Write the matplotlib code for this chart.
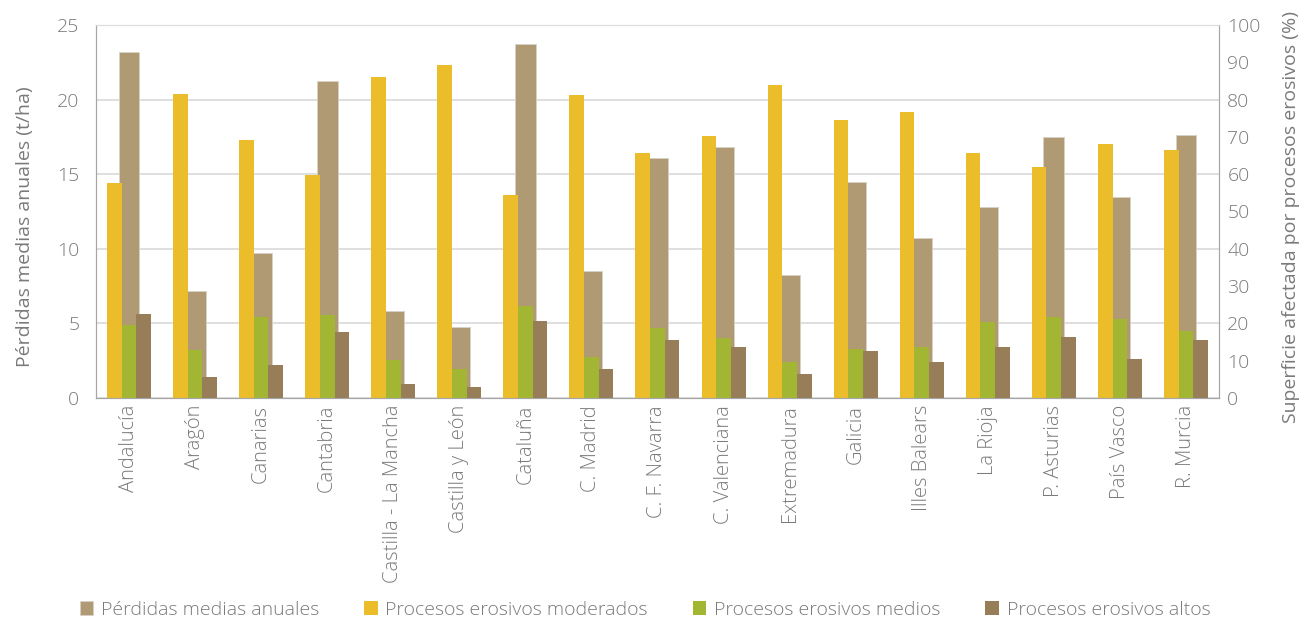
import numpy as np
import matplotlib.pyplot as plt

plt.rcParams['font.family'] = ['Open Sans', 'DejaVu Sans']
plt.rcParams['font.weight'] = 'light'

# Datos por comunidad autónoma
regiones = ['Andalucía', 'Aragón', 'Canarias', 'Cantabria', 'Castilla - La Mancha',
            'Castilla y León', 'Cataluña', 'C. Madrid', 'C. F. Navarra', 'C. Valenciana',
            'Extremadura', 'Galicia', 'Illes Balears', 'La Rioja', 'P. Asturias',
            'País Vasco', 'R. Murcia']
perdidas = [23.2, 7.2, 9.7, 21.25, 5.8, 4.75, 23.7, 8.5, 16.1, 16.8,
            8.25, 14.5, 10.7, 12.8, 17.5, 13.5, 17.65]          # t/ha
moderados = [57.6, 81.5, 69.2, 59.8, 86.0, 89.2, 54.5, 81.3, 65.6, 70.3,
             83.8, 74.4, 76.6, 65.8, 62.0, 68.1, 66.4]          # %
medios = [19.6, 12.8, 21.8, 22.2, 10.2, 7.8, 24.8, 10.9, 18.75, 16.0,
          9.8, 13.1, 13.6, 20.4, 21.7, 21.2, 18.0]              # %
altos = [22.6, 5.6, 8.8, 17.7, 3.8, 3.1, 20.7, 7.8, 15.5, 13.8,
         6.4, 12.7, 9.6, 13.7, 16.3, 10.5, 15.5]                # %

c_tan = '#b09a73'
c_yel = '#ebbd2a'
c_grn = '#a3b634'
c_brn = '#977d58'
c_txt = '#7a7a7a'

x = np.arange(len(regiones))
w = 0.222

fig = plt.figure(figsize=(13.03, 6.22), dpi=100)
ax = fig.add_axes([0.0737, 0.36, 0.8618, 0.60])
ax2 = ax.twinx()

ax.bar(x, perdidas, 0.315, color=c_tan, edgecolor='#d8d2c8', linewidth=0.6,
       label='Pérdidas medias anuales')
ax2.bar(x - w, moderados, w, color=c_yel, label='Procesos erosivos moderados')
ax2.bar(x, medios, w, color=c_grn, label='Procesos erosivos medios')
ax2.bar(x + w, altos, w, color=c_brn, label='Procesos erosivos altos')

ax.set_xlim(-0.5, len(regiones) - 0.5)
ax.set_ylim(0, 25)
ax2.set_ylim(0, 100)
ax.set_yticks(np.arange(0, 26, 5))
ax2.set_yticks(np.arange(0, 101, 10))
ax.set_axisbelow(True)
ax.yaxis.grid(True, color='#dcdcdc', linewidth=1.3)

ax.set_xticks(x)
ax.set_xticklabels(regiones, rotation=90)
for a in (ax, ax2):
    a.tick_params(axis='both', length=0, colors=c_txt, labelsize=14)
    for s in a.spines.values():
        s.set_color('#a6a6a6')
    a.spines['top'].set_color('#dcdcdc')
ax.tick_params(axis='x', labelsize=14.5, pad=5)
ax.tick_params(axis='y', pad=12)
ax2.tick_params(axis='y', pad=6)

ax.set_ylabel('Pérdidas medias anuales (t/ha)', fontsize=14, color=c_txt)
ax.yaxis.set_label_coords(-0.055, 0.458)
ax2.set_ylabel('Superficie afectada por procesos erosivos (%)', fontsize=14,
               color=c_txt)
ax2.yaxis.set_label_coords(1.056, 0.485)

h1, l1 = ax.get_legend_handles_labels()
h2, l2 = ax2.get_legend_handles_labels()
leg = fig.legend(h1 + h2, l1 + l2, loc='center', bbox_to_anchor=(0.495, 0.02),
                 ncol=4, frameon=False, fontsize=14, handlelength=0.7,
                 handleheight=0.7, handletextpad=0.4, columnspacing=2.3)
for t in leg.get_texts():
    t.set_color(c_txt)

fig.savefig('out.png', dpi=100)
